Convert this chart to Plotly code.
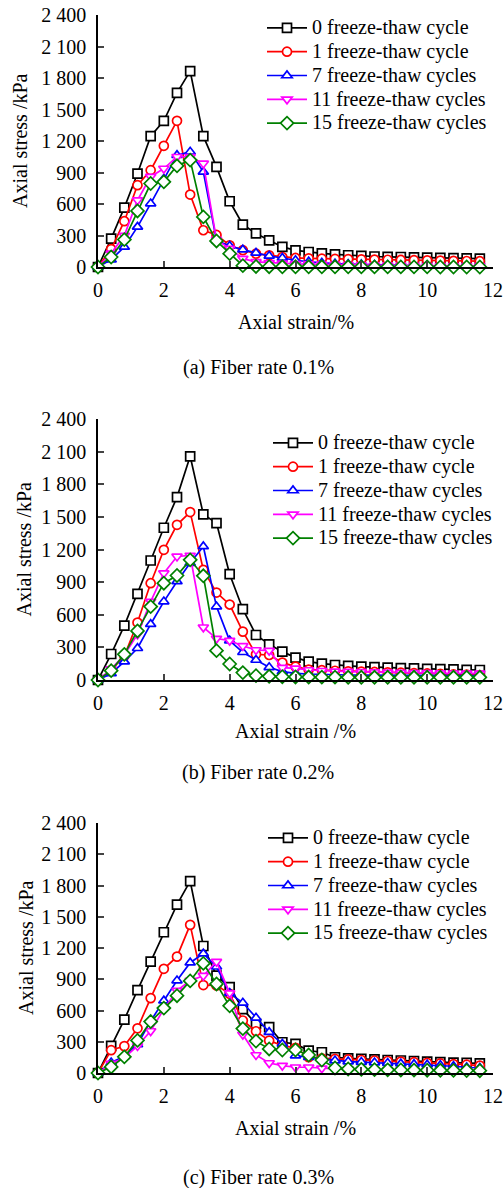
import plotly.graph_objects as go

W, H = 504, 1188
FONT = "Liberation Serif"

strain = [0, 0.4, 0.8, 1.2, 1.6, 2.0, 2.4, 2.8, 3.2, 3.6, 4.0, 4.4, 4.8, 5.2, 5.6,
          6.0, 6.4, 6.8, 7.2, 7.6, 8.0, 8.4, 8.8, 9.2, 9.6, 10.0, 10.4, 10.8, 11.2, 11.6]

series_names = ["0 freeze-thaw cycle", "1 freeze-thaw cycle", "7 freeze-thaw cycles",
                "11 freeze-thaw cycles", "15 freeze-thaw cycles"]

# Fiber rate 0.1%
a_0 = [0, 270, 566, 890, 1246, 1392, 1659, 1866, 1246, 954, 626, 404, 320, 254, 191,
       159, 143, 130, 120, 112, 105, 100, 97, 95, 92, 90, 87, 85, 82, 80]
a_1 = [0, 170, 436, 779, 922, 1154, 1392, 690, 350, 305, 207, 160, 127, 111, 95,
       86, 82, 79, 77, 75, 73, 71, 69, 67, 65, 63, 61, 59, 57, 55]
a_7 = [0, 70, 191, 382, 604, 840, 1065, 1097, 906, 254, 200, 165, 134, 105, 86,
       64, 50, 40, 32, 28, 24, 20, 18, 16, 14, 12, 10, 8, 6, 5]
a_11 = [0, 130, 300, 636, 860, 938, 1050, 1050, 986, 260, 175, 80, 48, 40, 35,
        30, 28, 25, 22, 20, 18, 16, 15, 14, 13, 12, 11, 10, 10, 10]
a_15 = [0, 95, 261, 534, 795, 811, 964, 1018, 477, 248, 127, 13, 5, 3, 2,
        2, 2, 2, 2, 2, 1, 1, 1, 1, 1, 1, 0, 0, 0, 0]

# Fiber rate 0.2%
b_0 = [0, 239, 500, 792, 1099, 1400, 1682, 2057, 1523, 1443, 973, 651, 414, 328, 261,
       206, 169, 150, 138, 130, 123, 118, 114, 110, 106, 103, 100, 97, 94, 92]
b_1 = [0, 90, 220, 528, 890, 1197, 1427, 1544, 1013, 804, 694, 445, 236, 230, 160,
       123, 95, 90, 85, 80, 77, 74, 70, 67, 63, 60, 57, 53, 50, 46]
b_7 = [0, 60, 169, 292, 513, 721, 906, 1075, 1228, 675, 362, 255, 184, 117, 77,
       61, 55, 50, 48, 46, 45, 44, 43, 42, 42, 41, 41, 40, 40, 40]
b_11 = [0, 100, 230, 420, 721, 982, 1136, 1145, 485, 381, 362, 313, 276, 270, 113,
        107, 92, 85, 80, 77, 75, 72, 70, 68, 66, 65, 63, 62, 61, 60]
b_15 = [0, 86, 236, 451, 675, 890, 961, 1105, 958, 270, 147, 68, 40, 34, 30,
        28, 27, 26, 26, 25, 25, 25, 25, 25, 25, 25, 25, 25, 25, 25]

# Fiber rate 0.3%
c_0 = [0, 260, 512, 795, 1070, 1351, 1617, 1842, 1219, 934, 825, 613, 472, 440, 295,
       279, 215, 199, 151, 141, 135, 130, 125, 120, 115, 110, 105, 100, 97, 93]
c_1 = [0, 219, 258, 429, 719, 1000, 1117, 1422, 844, 841, 760, 504, 401, 311, 263,
       241, 151, 140, 135, 130, 125, 120, 115, 110, 104, 98, 92, 86, 80, 71]
c_7 = [0, 100, 161, 274, 500, 694, 887, 1059, 1146, 1020, 767, 674, 530, 392, 279,
       167, 151, 135, 119, 110, 105, 100, 95, 90, 85, 80, 75, 65, 55, 48]
c_11 = [0, 90, 145, 260, 403, 613, 790, 887, 934, 1069, 767, 369, 173, 96, 71,
        55, 55, 45, 40, 35, 30, 28, 26, 25, 24, 23, 22, 21, 20, 20]
c_15 = [0, 58, 155, 313, 494, 623, 742, 884, 1052, 855, 645, 426, 306, 231, 221,
        221, 173, 125, 48, 39, 35, 32, 30, 29, 28, 27, 26, 25, 24, 22]

panels = [
    {"data": [a_0, a_1, a_7, a_11, a_15], "xtitle": "Axial strain/%", "caption": "(a) Fiber rate 0.1%"},
    {"data": [b_0, b_1, b_7, b_11, b_15], "xtitle": "Axial strain /%", "caption": "(b) Fiber rate 0.2%"},
    {"data": [c_0, c_1, c_7, c_11, c_15], "xtitle": "Axial strain /%", "caption": "(c) Fiber rate 0.3%"},
]

x_ticks = [0, 2, 4, 6, 8, 10, 12]
y_ticks = [0, 300, 600, 900, 1200, 1500, 1800, 2100, 2400]
y_ticktext = ["0", "300", "600", "900", "1 200", "1 500", "1 800", "2 100", "2 400"]

colors = ["#000000", "#ff0000", "#0000ff", "#ff00ff", "#008000"]
symbols = ["square", "circle", "triangle-up", "triangle-down", "diamond"]

# layout geometry (pixels)
x_left, x_right = 98, 493
plot_px = [(15, 267), (419, 680), (823, 1073)]
legend_top = [11, 426, 821]
legend_left = [262, 268, 263]
xtitle_y = [322, 731, 1128]
caption_y = [368, 772, 1177]
ytitle_x = [20, 23, 26]
TXT = 20

def px(x):
    return x / W

def py(y):
    return 1 - y / H

fig = go.Figure()
layout = dict(
    width=W, height=H,
    margin=dict(l=0, r=0, t=0, b=0),
    paper_bgcolor="white", plot_bgcolor="white",
    font=dict(family=FONT, size=TXT, color="black"),
    template="none",
    annotations=[],
)

for i, p in enumerate(panels):
    k = "" if i == 0 else str(i + 1)
    for j, ys in enumerate(p["data"]):
        fig.add_trace(go.Scatter(
            x=strain, y=ys, mode="lines+markers",
            name='<span style="font-size:%dpx">%s</span>' % (TXT, series_names[j]),
            xaxis="x" + k, yaxis="y" + k,
            legend="legend" + k,
            line=dict(color=colors[j], width=1.7),
            marker=dict(symbol=symbols[j], size=9 if j != 4 else 10, color="white",
                        line=dict(color=colors[j], width=1.7)),
            cliponaxis=False,
        ))
    top, bot = plot_px[i]
    layout["xaxis" + k] = dict(
        domain=[px(x_left), px(x_right)], anchor="y" + k, range=[0, 12],
        tickvals=x_ticks, ticks="inside", ticklen=6, tickwidth=1.5,
        showline=True, linecolor="black", linewidth=1.5, showgrid=False,
        zeroline=False, automargin=False, tickfont=dict(size=TXT),
        ticklabeloverflow="allow", ticklabelstandoff=4,
    )
    layout["yaxis" + k] = dict(
        domain=[py(bot), py(top)], anchor="x" + k, range=[0, 2400],
        tickvals=y_ticks, ticktext=y_ticktext, ticks="inside", ticklen=6, tickwidth=1.5,
        showline=True, linecolor="black", linewidth=1.5, showgrid=False,
        zeroline=False, automargin=False, tickfont=dict(size=TXT),
        ticklabeloverflow="allow", ticklabelstandoff=6,
    )
    layout["legend" + k] = dict(
        x=px(legend_left[i]), y=py(legend_top[i]), xanchor="left", yanchor="top",
        bgcolor="rgba(0,0,0,0)", font=dict(size=16, family=FONT),
        itemwidth=40, tracegroupgap=0,
    )
    layout["annotations"] += [
        dict(text=p["xtitle"], x=px((x_left + x_right) / 2), y=py(xtitle_y[i]),
             xref="paper", yref="paper", xanchor="center", yanchor="middle",
             showarrow=False, font=dict(size=TXT)),
        dict(text=p["caption"], x=px(258), y=py(caption_y[i]),
             xref="paper", yref="paper", xanchor="center", yanchor="middle",
             showarrow=False, font=dict(size=TXT)),
        dict(text="Axial stress /kPa", x=px(ytitle_x[i]), y=py((top + bot) / 2),
             xref="paper", yref="paper", xanchor="center", yanchor="middle",
             showarrow=False, textangle=-90, font=dict(size=TXT)),
    ]

fig.update_layout(**layout)
fig.write_html("out.html")
